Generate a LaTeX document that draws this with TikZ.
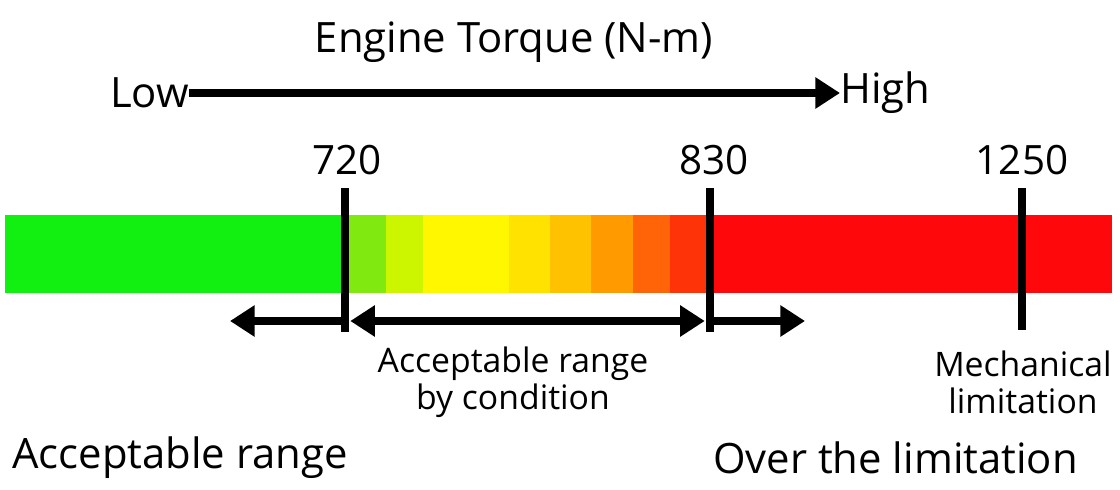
\documentclass[tikz,border=0pt]{standalone}
\usepackage{fontspec}
\setmainfont{Open Sans}
\usepackage{tikz}
\usetikzlibrary{arrows.meta,positioning}
\definecolor{segA}{HTML}{12F012}
\definecolor{segB}{HTML}{80EA10}
\definecolor{segC}{HTML}{CCF500}
\definecolor{segD}{HTML}{FFF700}
\definecolor{segE}{HTML}{FFE200}
\definecolor{segF}{HTML}{FFC200}
\definecolor{segG}{HTML}{FF9A00}
\definecolor{segH}{HTML}{FF6408}
\definecolor{segI}{HTML}{FF3208}
\definecolor{segJ}{HTML}{FF080C}

\begin{document}
\begin{tikzpicture}[x=0.02cm, y=-0.02cm,
  lbl/.style={font=\fontsize{23.8}{26}\selectfont, inner sep=0pt},
  num/.style={font=\fontsize{23}{25}\selectfont, inner sep=0pt},
  note/.style={align=center, font=\fontsize{19.2}{21}\selectfont, inner sep=0pt},
  big/.style={font=\fontsize{23.8}{26}\selectfont, inner sep=0pt},
  tick/.style={line width=4.5pt},
  arr/.style={-{Triangle[length=14pt, width=17pt]}, line width=4pt},
  darr/.style={{Triangle[length=14pt, width=17pt]}-{Triangle[length=14pt, width=17pt]}, line width=4pt}]
\useasboundingbox (0,0) rectangle (1120,490);
% bar
\fill[segA] (5,215) rectangle (345,293);
\fill[segB] (345,215) rectangle (386,293);
\fill[segC] (386,215) rectangle (423,293);
\fill[segD] (423,215) rectangle (509,293);
\fill[segE] (509,215) rectangle (550,293);
\fill[segF] (550,215) rectangle (591,293);
\fill[segG] (591,215) rectangle (633,293);
\fill[segH] (633,215) rectangle (670,293);
\fill[segI] (670,215) rectangle (710,293);
\fill[segJ] (710,215) rectangle (1112,293);
% titre
\node[lbl] (title) at (514,42) {Engine Torque (N-m)};
\node[lbl, anchor=east] (low) at (189,93) {Low};
\node[lbl, anchor=west] (high) at (840,93) {High};
\draw[arr] (low) -- (high);
% graduations
\node[num] (n720) at (347,160) {720};
\node[num] (n830) at (714,160) {830};
\node[num] (n1250) at (1022,160) {1250};
\coordinate (t720) at (345,188);
\coordinate (b720) at (345,332);
\coordinate (t830) at (710,188);
\coordinate (b830) at (710,332);
\coordinate (t1250) at (1022,188);
\coordinate (b1250) at (1022,330);
\draw[tick] (t720) -- (b720);
\draw[tick] (t830) -- (b830);
\draw[tick] (t1250) -- (b1250);
% fleches
\coordinate (aL) at (230,321);
\coordinate (a720) at (345,321);
\coordinate (a830) at (710,321);
\coordinate (aR) at (805,321);
\draw[arr] (a720) -- (aL);
\draw[darr] ([xshift=3]a720) -- ([xshift=-3]a830);
\draw[arr] (a830) -- (aR);
% textes
\node[note] (cond) at (513,382) {Acceptable range\\by condition};
\node[note] (mech) at (1023,382) {Mechanical\\limitation};
\node[big, anchor=west] (ok) at (12,458) {Acceptable range};
\node[big, anchor=west] (over) at (713,458) {Over the limitation};
\end{tikzpicture}
\end{document}
